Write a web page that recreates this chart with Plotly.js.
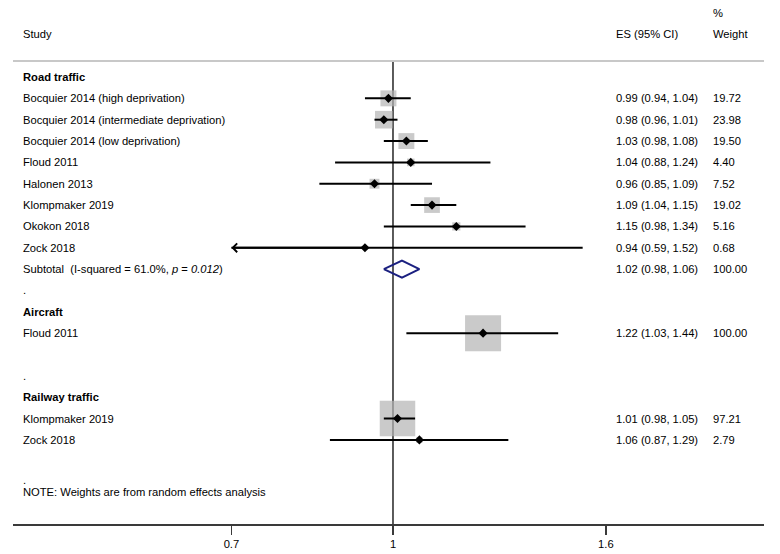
<!DOCTYPE html>
<html>
<head>
<meta charset="utf-8">
<script src="https://cdn.plot.ly/plotly-3.0.1.min.js"></script>
<style>html,body{margin:0;padding:0;background:#fff;}#chart{width:780px;height:554px;}</style>
</head>
<body>
<div id="chart"></div>
<script>
// ---------------- data ----------------
const groups = ['Road traffic', 'Aircraft', 'Railway traffic'];
const studies = [
  'Bocquier 2014 (high deprivation)',
  'Bocquier 2014 (intermediate deprivation)',
  'Bocquier 2014 (low deprivation)',
  'Floud 2011',
  'Halonen 2013',
  'Klompmaker 2019',
  'Okokon 2018',
  'Zock 2018',
  'Floud 2011',
  'Klompmaker 2019',
  'Zock 2018'
];
const studyGroup = [0, 0, 0, 0, 0, 0, 0, 0, 1, 2, 2];
const es     = [0.99, 0.98, 1.03, 1.04, 0.96, 1.09, 1.15, 0.94, 1.22, 1.01, 1.06];
const ciLow  = [0.94, 0.96, 0.98, 0.88, 0.85, 1.04, 0.98, 0.59, 1.03, 0.98, 0.87];
const ciHigh = [1.04, 1.01, 1.08, 1.24, 1.09, 1.15, 1.34, 1.52, 1.44, 1.05, 1.29];
const weight = [19.72, 23.98, 19.50, 4.40, 7.52, 19.02, 5.16, 0.68, 100.00, 97.21, 2.79];

// subtotals (only Road traffic shown)
const subGroup  = [0];
const subES     = [1.02];
const subLow    = [0.98];
const subHigh   = [1.06];
const subWeight = [100.00];
const subI2     = ['61.0'];
const subP      = ['0.012'];

const xTicks = [0.7, 1, 1.6];
const xTickText = ['0.7', '1', '1.6'];
const nullValue = 1;
const noteText = 'NOTE: Weights are from random effects analysis';

// ---------------- layout helpers ----------------
const W = 780, H = 554;
const M = {l: 13, r: 16, t: 61, b: 30};
const plotW = W - M.l - M.r;
const FONT = 'Liberation Sans, Arial, sans-serif';
const FS = 11.2;
const colStudy = 21, colES = 614, colWt = 711;   // pixel columns (annotation box left edge)
const px2paper = p => (p - M.l) / plotW;
const yRange = [20.94, -0.75];
const row2paper = rw => (yRange[0] - rw) / (yRange[0] - yRange[1]);
const xRange = [-0.3643, 0.3557];
const clipLo = Math.min(...xTicks);

// build rows
const textAnn = [];
const studyRow = new Array(studies.length);
const subRow = {};
const dotRows = [];
let r = 0;
groups.forEach((g, gi) => {
  textAnn.push({row: r, x: colStudy, text: '<b>' + g + '</b>'});
  r++;
  studies.forEach((s, i) => {
    if (studyGroup[i] === gi) { studyRow[i] = r; r++; }
  });
  const si = subGroup.indexOf(gi);
  if (si >= 0) subRow[si] = r;
  r++;
  dotRows.push(r);
  r++;
});

const fmt = v => v.toFixed(2);
studies.forEach((s, i) => {
  textAnn.push({row: studyRow[i], x: colStudy, text: s});
  textAnn.push({row: studyRow[i], x: colES, text: fmt(es[i]) + ' (' + fmt(ciLow[i]) + ', ' + fmt(ciHigh[i]) + ')'});
  textAnn.push({row: studyRow[i], x: colWt, text: fmt(weight[i])});
});
subGroup.forEach((g, k) => {
  const rr = subRow[k];
  textAnn.push({row: rr, x: colStudy, text: 'Subtotal\u00A0 (I-squared = ' + subI2[k] + '%, <i>p</i> = <i>' + subP[k] + '</i>)'});
  textAnn.push({row: rr, x: colES, text: fmt(subES[k]) + ' (' + fmt(subLow[k]) + ', ' + fmt(subHigh[k]) + ')'});
  textAnn.push({row: rr, x: colWt, text: fmt(subWeight[k])});
});
dotRows.forEach((rr, k) => textAnn.push({row: k === dotRows.length - 1 ? rr - 0.1 : rr, x: colStudy, text: '.'}));
// header
textAnn.push({row: -2, x: colStudy, text: 'Study'});
textAnn.push({row: -2, x: colES, text: 'ES (95% CI)'});
textAnn.push({row: -2, x: colWt, text: 'Weight'});
textAnn.push({row: -3, x: colWt, text: '%'});
textAnn.push({row: dotRows[dotRows.length - 1] + 0.45, x: colStudy, text: noteText});

const annotations = textAnn.map(a => ({
  xref: 'paper', yref: 'paper', x: px2paper(a.x), y: row2paper(a.row),
  xanchor: 'left', yanchor: 'middle', showarrow: false, text: a.text,
  font: {family: FONT, size: FS, color: '#000'}
}));

// arrows for clipped CIs
studies.forEach((s, i) => {
  if (ciLow[i] < clipLo) {
    annotations.push({
      xref: 'x', yref: 'y', axref: 'x', ayref: 'y',
      x: Math.log10(clipLo), y: studyRow[i],
      ax: Math.log10(es[i]), ay: studyRow[i],
      showarrow: true, arrowhead: 4, arrowsize: 0.85, arrowwidth: 2,
      arrowcolor: '#000', text: '', standoff: 0
    });
  }
});

// ---------------- traces ----------------
const traces = [];
// null line
traces.push({
  type: 'scatter', mode: 'lines', x: [nullValue, nullValue], y: yRange,
  line: {color: '#333', width: 1.6}, hoverinfo: 'skip', showlegend: false, cliponaxis: false
});
// weight boxes
traces.push({
  type: 'scatter', mode: 'markers', x: es, y: studyRow,
  marker: {symbol: 'square', size: weight.map(w => 3.6 * Math.sqrt(w)), color: '#b4b4b4', line: {width: 0}},
  hoverinfo: 'skip', showlegend: false
});
// CIs + point estimates
const loShown = ciLow.map(v => Math.max(v, clipLo));
traces.push({
  type: 'scatter', mode: 'markers', x: es, y: studyRow,
  marker: {symbol: 'diamond', size: 7, color: '#000'},
  error_x: {type: 'data', symmetric: false,
    array: ciHigh.map((h, i) => h - es[i]),
    arrayminus: loShown.map((l, i) => es[i] - l),
    width: 0, thickness: 2, color: '#000'},
  hoverinfo: 'skip', showlegend: false
});
// subtotal diamonds
subGroup.forEach((g, k) => {
  const rr = subRow[k], h = 0.4;
  traces.push({
    type: 'scatter', mode: 'lines',
    x: [subLow[k], subES[k], subHigh[k], subES[k], subLow[k]],
    y: [rr, rr - h, rr, rr + h, rr],
    line: {color: '#1b2080', width: 2}, hoverinfo: 'skip', showlegend: false
  });
});

const layout = {
  width: W, height: H, margin: M,
  paper_bgcolor: '#fff', plot_bgcolor: '#fff',
  showlegend: false,
  font: {family: FONT, size: FS, color: '#000'},
  xaxis: {
    type: 'log', range: xRange, showgrid: false, zeroline: false,
    showline: true, linecolor: '#3a3a3a', linewidth: 2,
    ticks: 'outside', ticklen: 9, tickwidth: 1.6, tickcolor: '#3a3a3a',
    tickvals: xTicks, ticktext: xTickText,
    tickfont: {family: FONT, size: FS, color: '#000'}, fixedrange: true
  },
  yaxis: {range: yRange, visible: false, showgrid: false, zeroline: false, fixedrange: true},
  shapes: [{
    type: 'line', xref: 'paper', yref: 'paper', x0: 0, x1: 1, y0: 1, y1: 1,
    line: {color: '#c8c8c8', width: 2}
  }],
  annotations: annotations
};

Plotly.newPlot('chart', traces, layout, {staticPlot: true, displayModeBar: false});
</script>
</body>
</html>
